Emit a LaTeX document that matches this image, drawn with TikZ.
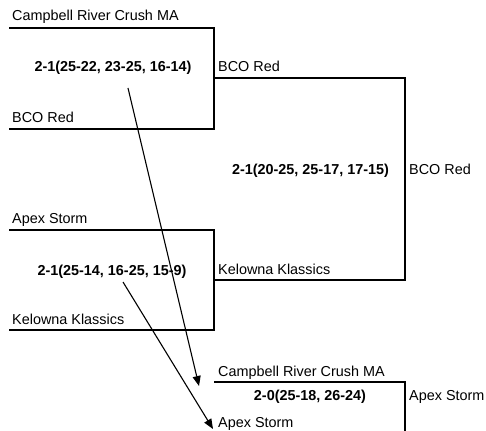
\documentclass[tikz,border=0pt]{standalone}
\usepackage{fontspec}
\setmainfont{Liberation Sans}
\usetikzlibrary{arrows.meta}
\begin{document}
\begin{tikzpicture}[x=1pt,y=-1pt,
  team/.style={anchor=base west, inner sep=0pt, font=\fontsize{14.4}{17}\selectfont},
  score/.style={anchor=base, inner sep=0pt, font=\fontsize{14.4}{17}\selectfont\bfseries},
  bline/.style={line width=2pt, line join=miter},
  arr/.style={line width=1.1pt, -{Triangle[length=10pt,width=8pt]}}]
\useasboundingbox (0,0) rectangle (486,430);
\begin{scope}
\clip (0,0) rectangle (486,430);
% bracket 1
\draw[bline] (9,28) -| (214,129) -- (9,129);
\node[team] (t1) at (12,21) {Campbell River Crush MA};
\node[score] (s1) at (113,72) {2-1(25-22, 23-25, 16-14)};
\node[team] (t2) at (12,123) {BCO Red};
% bracket 3
\draw[bline] (9,230) -| (214,330) -- (9,330);
\node[team] (t3) at (12,223) {Apex Storm};
\node[score] (s3) at (112,275) {2-1(25-14, 16-25, 15-9)};
\node[team] (t4) at (12,324) {Kelowna Klassics};
% bracket 2
\draw[bline] (214,78.5) -| (405,280) -- (214,280);
\node[team] (w1) at (218,72) {BCO Red};
\node[score] (s2) at (310.5,175) {2-1(20-25, 25-17, 17-15)};
\node[team] (w3) at (218,274) {Kelowna Klassics};
\node[team] (w2) at (409,175) {BCO Red};
% bracket 4
\draw[bline] (214,382) -| (405,445);
\node[team] (c1) at (218,376) {Campbell River Crush MA};
\node[score] (s4) at (310,400) {2-0(25-18, 26-24)};
\node[team] (c3) at (409,400) {Apex Storm};
\node[team] (c2) at (218,427) {Apex Storm};
% arrows
\coordinate (a1s) at (128,88);
\coordinate (a1e) at (199,386);
\coordinate (a2s) at (123,282);
\coordinate (a2e) at (213,429);
\draw[arr] (a1s) -- (a1e);
\draw[arr] (a2s) -- (a2e);
\end{scope}
\end{tikzpicture}
\end{document}
